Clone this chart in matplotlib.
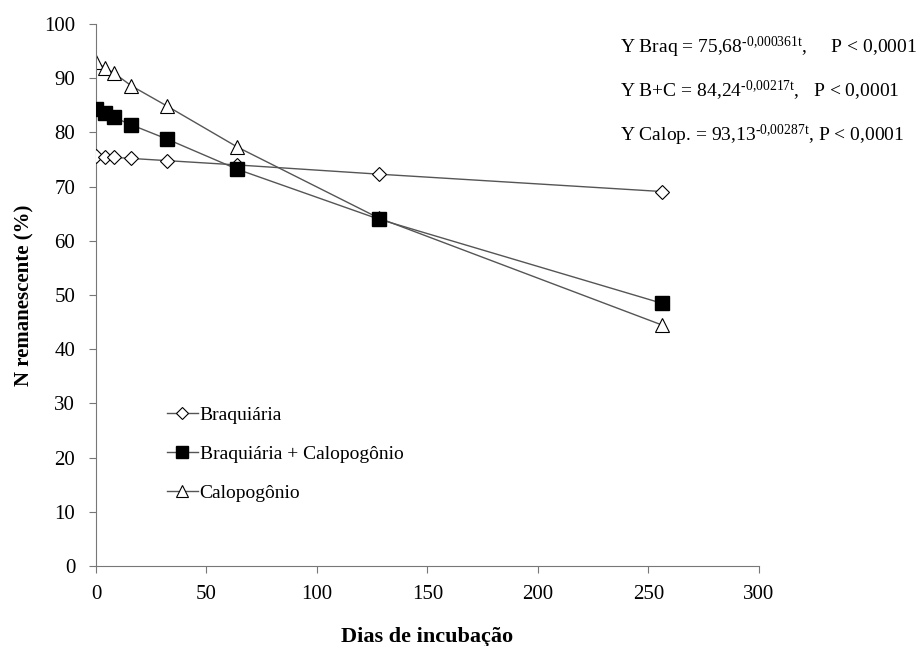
import matplotlib
matplotlib.use("Agg")
import matplotlib.pyplot as plt

plt.rcParams["font.family"] = ["Liberation Serif", "DejaVu Serif"]
plt.rcParams["mathtext.fontset"] = "custom"
plt.rcParams["mathtext.rm"] = "Liberation Serif"
plt.rcParams["mathtext.it"] = "Liberation Serif"

# Data
dias = [0, 4, 8, 16, 32, 64, 128, 256]
braquiaria = [75.6, 75.5, 75.4, 75.2, 74.8, 74.0, 72.3, 69.1]
braq_calop = [84.3, 83.6, 82.8, 81.4, 78.8, 73.2, 64.0, 48.5]
calopogonio = [93.0, 91.9, 91.0, 88.6, 84.9, 77.3, 64.2, 44.5]

labels = ["Braquiária", "Braquiária + Calopogônio", "Calopogônio"]
equations = [
    r"Y Braq = 75,68$^{\mathrm{‐0{,}000361t}}$,     P < 0,0001",
    r"Y B+C = 84,24$^{\mathrm{‐0{,}00217t}}$,   P < 0,0001",
    r"Y Calop. = 93,13$^{\mathrm{‐0{,}00287t}}$, P < 0,0001",
]

fig = plt.figure(figsize=(9.17, 6.46), dpi=100)
ax = fig.add_axes([0.1047, 0.1238, 0.7227, 0.839])

line_kw = dict(color="#555555", linewidth=1.0, markeredgecolor="black")
ax.plot(dias, calopogonio, marker="^", markersize=10, markerfacecolor="white",
        markeredgewidth=0.8, label=labels[2], zorder=2, **line_kw)
ax.plot(dias, braquiaria, marker="D", markersize=7, markerfacecolor="white",
        markeredgewidth=0.8, label=labels[0], zorder=3, **line_kw)
ax.plot(dias, braq_calop, marker="s", markersize=9.5, markerfacecolor="black",
        label=labels[1], zorder=4, **line_kw)

ax.set_xlim(0, 300)
ax.set_ylim(0, 100)
ax.set_xticks(range(0, 301, 50))
ax.set_yticks(range(0, 101, 10))
ax.tick_params(labelsize=15, direction="out", length=5, width=0.8,
               color="#777777")
ax.tick_params(axis="x", pad=9)
ax.tick_params(axis="y", pad=10)
for s in ["top", "right"]:
    ax.spines[s].set_visible(False)
for s in ["left", "bottom"]:
    ax.spines[s].set_color("#777777")
ax.set_xlabel("Dias de incubação", fontsize=16, fontweight="bold", labelpad=16)
ax.set_ylabel("N remanescente (%)", fontsize=15, fontweight="bold", labelpad=7)

h, l = ax.get_legend_handles_labels()
order = [1, 2, 0]
ax.legend([h[i] for i in order], [l[i] for i in order],
          loc="upper left", bbox_to_anchor=(0.08, 0.327), frameon=False,
          fontsize=14, handlelength=1.6, handletextpad=0.1, labelspacing=1.1,
          markerscale=0.85)

for i, eq in enumerate(equations):
    y = 0.927 - i * 0.068
    fig.text(0.676, y, eq, fontsize=14, va="center")

fig.savefig("out.png", dpi=100)
